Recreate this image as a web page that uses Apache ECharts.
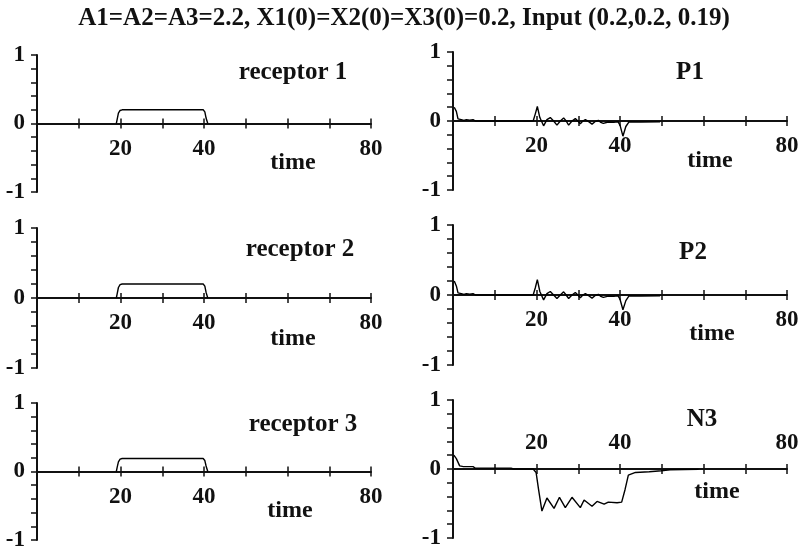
<!DOCTYPE html>
<html>
<head>
<meta charset="utf-8">
<title>Receptor and neuron responses</title>
<script src="https://cdn.jsdelivr.net/npm/echarts@6/dist/echarts.min.js"></script>
<style>
  html, body { margin: 0; padding: 0; background: #fff; }
  #chart { width: 808px; height: 552px; }
</style>
</head>
<body>
<div id="chart"></div>
<script>
// Axis labelling
const xTickLabels = [20, 40, 80];
const yTickLabels = [-1, 0, 1];

// Panel names, in drawing order (left column = receptors, right column = outputs)
const panelNames = ['receptor 1', 'P1', 'receptor 2', 'P2', 'receptor 3', 'N3'];

// Responses: [time, activity]
const receptor1 = [[19, 0], [19.2, 0.06], [19.5, 0.15], [19.9, 0.19], [20.4, 0.2], [39.8, 0.2], [40.2, 0.17], [40.5, 0.08], [40.9, 0]];
const receptor2 = [[19, 0], [19.2, 0.06], [19.5, 0.15], [19.9, 0.19], [20.4, 0.2], [39.8, 0.2], [40.2, 0.17], [40.5, 0.08], [40.9, 0]];
const receptor3 = [[19, 0], [19.2, 0.06], [19.5, 0.14], [19.9, 0.18], [20.4, 0.19], [39.8, 0.19], [40.2, 0.16], [40.5, 0.08], [40.9, 0]];

const p1 = [[0.3, 0.2], [0.8, 0.14], [1.2, 0.03], [1.6, 0.005], [2.0, 0.02], [2.6, 0.01], [3.2, 0.02], [4.0, 0.012], [4.8, 0.02], [5.4, 0],
  [19.2, 0], [19.7, 0.1], [20.2, 0.21], [20.8, 0.05], [21.7, -0.07], [22.5, 0.02], [23.3, 0.05], [24.1, 0], [24.9, -0.06], [25.7, 0],
  [26.5, 0.045], [27.1, 0], [27.7, -0.06], [28.5, 0], [29.3, 0.035], [29.9, 0], [30.5, -0.04], [31.1, 0], [31.7, 0.02], [32.5, -0.01],
  [33.3, -0.045], [34.0, -0.01], [34.8, 0.01], [35.4, -0.02], [36.0, -0.035], [37.2, -0.015], [38.5, -0.02], [39.5, -0.01], [40.0, -0.06],
  [40.7, -0.22], [41.4, -0.08], [42.2, -0.01], [45.0, -0.015], [49.6, -0.01]];

const p2 = [[0.3, 0.2], [0.8, 0.13], [1.2, 0.03], [1.6, 0.005], [2.0, 0.02], [2.6, 0.01], [3.2, 0.02], [4.0, 0.012], [4.8, 0.02], [5.4, 0],
  [19.2, 0], [19.7, 0.1], [20.2, 0.22], [20.8, 0.05], [21.7, -0.07], [22.5, 0.02], [23.3, 0.05], [24.1, 0], [24.9, -0.05], [25.7, 0],
  [26.5, 0.045], [27.1, 0], [27.7, -0.05], [28.5, 0], [29.3, 0.035], [29.9, 0], [30.5, -0.04], [31.1, 0], [31.7, 0.02], [32.5, -0.01],
  [33.3, -0.045], [34.0, -0.01], [34.8, 0.01], [35.4, -0.02], [36.0, -0.035], [37.2, -0.015], [38.5, -0.02], [39.5, -0.01], [40.0, -0.06],
  [40.7, -0.21], [41.4, -0.08], [42.2, -0.01], [45.0, -0.015], [49.6, -0.01]];

const n3 = [[0.2, 0.2], [0.8, 0.15], [1.6, 0.045], [2.5, 0.035], [4.8, 0.035], [5.3, 0.015], [13.9, 0.012], [14.5, 0],
  [19.2, 0], [19.9, -0.05], [20.5, -0.3], [21.3, -0.61], [22.5, -0.42], [24.2, -0.57], [25.5, -0.41], [26.9, -0.56], [28.5, -0.41],
  [30.5, -0.56], [31.4, -0.45], [33.3, -0.54], [34.5, -0.47], [36.2, -0.51], [37.2, -0.48], [39.3, -0.49], [40.4, -0.48],
  [41.2, -0.3], [42.0, -0.09], [43.7, -0.05], [47.0, -0.04], [49.9, -0.025], [52.0, -0.01], [58.8, -0.005]];

const panelData = [receptor1, p1, receptor2, p2, receptor3, n3];

const FONT = '"Liberation Serif", "Times New Roman", serif';
const INK = '#111';

// Plot rectangles for the 3 x 2 layout
const grids = [
  { left: 37, top: 55, width: 334, height: 137 },
  { left: 453, top: 52, width: 334, height: 138 },
  { left: 37, top: 228, width: 334, height: 140 },
  { left: 453, top: 225, width: 334, height: 140 },
  { left: 37, top: 403, width: 334, height: 137 },
  { left: 453, top: 400, width: 334, height: 138 }
];

// Text positions for the panel names and the "time" captions
const namePos = [[293, 73], [690, 73], [300, 250], [693, 253], [303, 425], [702, 420]];
const timePos = [[293, 163], [710, 161], [293, 339], [712, 334], [290, 511], [717, 492]];

// N3 has its tick labels above the zero line
const labelsOnTop = [false, false, false, false, false, true];

const xFormatter = v => (xTickLabels.some(t => Math.abs(t - v) < 1e-9) ? String(v) : '');
const yFormatter = v => {
  const hit = yTickLabels.find(t => Math.abs(t - v) < 1e-9);
  return hit === undefined ? '' : String(hit);
};

const labelFont = { fontFamily: FONT, fontWeight: 'bold', fontSize: 23, color: INK };

const xAxes = [];
const yAxes = [];
const series = [];

grids.forEach((g, i) => {
  // the time axis runs through y = 0, which sits halfway up each plot (range -1..1)
  const toMiddle = -g.height / 2;
  yAxes.push({
    gridIndex: i, type: 'value', min: -1, max: 1, interval: 0.2,
    axisLine: { show: true, onZero: false, lineStyle: { color: INK, width: 2 } },
    axisTick: { show: true, inside: false, length: 6, lineStyle: { color: INK, width: 1.5 } },
    axisLabel: Object.assign({ margin: 12, formatter: yFormatter }, labelFont),
    splitLine: { show: false }
  });
  // lower half of the crossing ticks, plus labels below the line
  xAxes.push({
    gridIndex: i, type: 'value', min: 0, max: 80, interval: 10, position: 'bottom', offset: toMiddle,
    axisLine: { show: true, onZero: false, lineStyle: { color: INK, width: 2 } },
    axisTick: { show: true, inside: false, length: 5, lineStyle: { color: INK, width: 1.5 } },
    axisLabel: Object.assign({ show: !labelsOnTop[i], margin: 14, formatter: xFormatter }, labelFont),
    splitLine: { show: false }
  });
  // upper half of the crossing ticks, plus labels above the line where used
  xAxes.push({
    gridIndex: i, type: 'value', min: 0, max: 80, interval: 10, position: 'top', offset: toMiddle,
    axisLine: { show: false, onZero: false },
    axisTick: { show: true, inside: false, length: 5, lineStyle: { color: INK, width: 1.5 } },
    axisLabel: Object.assign({ show: labelsOnTop[i], margin: 14, formatter: xFormatter }, labelFont),
    splitLine: { show: false }
  });
  series.push({
    type: 'line', xAxisIndex: 2 * i, yAxisIndex: i, data: panelData[i],
    showSymbol: false, symbol: 'none', smooth: false,
    lineStyle: { color: '#000', width: 1.4 }, z: 3
  });
});

const graphics = [{
  type: 'text', x: 404, y: 19,
  style: { text: 'A1=A2=A3=2.2, X1(0)=X2(0)=X3(0)=0.2, Input (0.2,0.2, 0.19)', fill: INK,
    font: 'bold 25px ' + FONT, textAlign: 'center', textVerticalAlign: 'middle' }
}];
panelNames.forEach((name, i) => {
  graphics.push({
    type: 'text', x: namePos[i][0], y: namePos[i][1],
    style: { text: name, fill: INK, font: 'bold 25px ' + FONT, textAlign: 'center', textVerticalAlign: 'middle' }
  });
  graphics.push({
    type: 'text', x: timePos[i][0], y: timePos[i][1],
    style: { text: 'time', fill: INK, font: 'bold 24px ' + FONT, textAlign: 'center', textVerticalAlign: 'middle' }
  });
});

const chart = echarts.init(document.getElementById('chart'), null, { renderer: 'canvas' });
chart.setOption({
  animation: false,
  backgroundColor: '#fff',
  grid: grids,
  xAxis: xAxes,
  yAxis: yAxes,
  series: series,
  graphic: graphics
});
</script>
</body>
</html>
